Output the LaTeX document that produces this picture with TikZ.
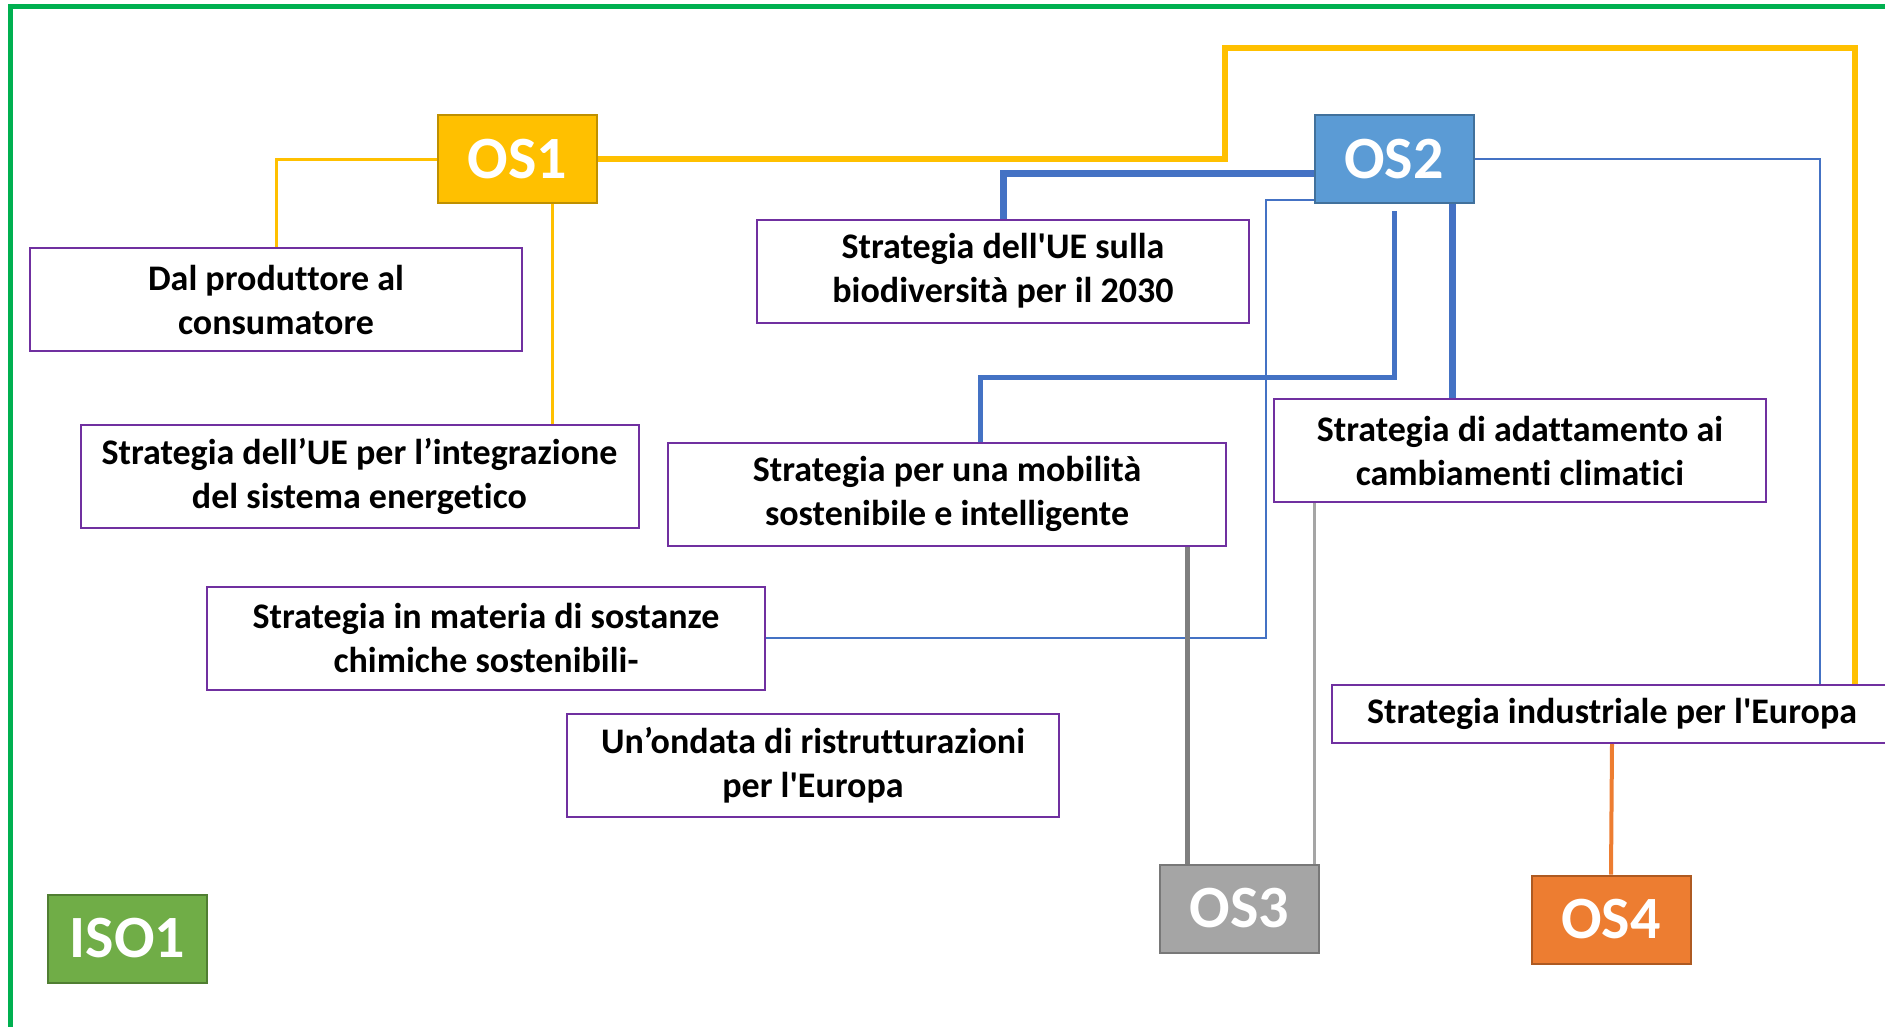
\documentclass[tikz,border=0pt]{standalone}
\usepackage{fontspec}
\setmainfont{Carlito}[Ligatures=CommonOff]
\usetikzlibrary{calc}
\definecolor{osyellow}{HTML}{FFC000}
\definecolor{osyellowdark}{HTML}{BF9000}
\definecolor{osblue}{HTML}{5B9BD5}
\definecolor{osbluedark}{HTML}{41719C}
\definecolor{linkblue}{HTML}{4472C4}
\definecolor{osgray}{HTML}{A5A5A5}
\definecolor{osgraydark}{HTML}{787878}
\definecolor{linkgray}{HTML}{7F7F7F}
\definecolor{osorange}{HTML}{ED7D31}
\definecolor{osorangedark}{HTML}{AE5A21}
\definecolor{isogreen}{HTML}{70AD47}
\definecolor{isogreendark}{HTML}{507E32}
\definecolor{framegreen}{HTML}{00B050}
\definecolor{stratpurple}{HTML}{7030A0}
\tikzset{
    strat/.style={draw=stratpurple, line width=2pt, fill=white, align=center, inner sep=0pt,
      minimum height=103pt, font=\fontsize{36}{44}\selectfont\bfseries},
    stratnarrow/.style={strat, minimum width=492pt},
    stratwide/.style={strat, minimum width=558pt},
    osbox/.style={line width=2pt, inner sep=0pt, minimum width=159pt, minimum height=88pt,
      text=white, font=\fontsize{60}{62}\selectfont\bfseries},
    yellowlink/.style={draw=osyellow},
    bluelink/.style={draw=linkblue},
    graylink/.style={draw=linkgray}}
\begin{document}
\begin{tikzpicture}[x=1pt,y=-1pt]
\useasboundingbox (0,0) rectangle (1885,1026);

\draw [framegreen, line width=5pt] (10,1040) -- (10,6) -- (1900,6);

\node[osbox, fill=osyellow, draw=osyellowdark] (os1) at (517.5,159) {OS1};
\node[osbox, fill=osblue, draw=osbluedark] (os2) at (1394,159) {OS2};
\node[osbox, fill=osgray, draw=osgraydark] (os3) at (1239.5,908.5) {OS3};
\node[osbox, fill=osorange, draw=osorangedark] (os4) at (1611,919.5) {OS4};
\node[osbox, fill=isogreen, draw=isogreendark] (iso1) at (127.5,938.5) {ISO1};

\node[stratnarrow] (dal) at (276,299.5) {Dal produttore al\\consumatore};
\node[stratwide] (integ) at (359.5,476) {Strategia dell’UE per l’integrazione\\del sistema energetico};
\node[stratnarrow] (biodiv) at (1003,271) {Strategia dell\textquotesingle UE sulla\\biodiversità per il 2030};
\node[stratwide] (mobil) at (947,494) {Strategia per una mobilità\\sostenibile e intelligente};
\node[stratnarrow] (adatt) at (1520,450.5) {Strategia di adattamento ai\\cambiamenti climatici};
\node[stratwide] (chim) at (486,638) {Strategia in materia di sostanze\\chimiche sostenibili-};
\node[stratnarrow] (ondata) at (813,765) {Un’ondata di ristrutturazioni\\per l\textquotesingle Europa};
\node[strat, minimum width=560pt, minimum height=58pt] (indus) at (1612,714) {Strategia industriale per l\textquotesingle Europa};

% OS1
\draw [yellowlink, line width=3pt] (os1.west) -| (dal.north);
\coordinate (y1) at ([xshift=35pt]os1.south);
\draw [yellowlink, line width=3pt] (y1) -- (y1 |- integ.north);
\coordinate (y2) at (1855,48);
\draw [yellowlink, line width=6pt] (os1.east) -- (1225,159) |- (y2) -- (y2 |- indus.north);

% OS2
\coordinate (b1) at ([yshift=-14pt]os2.west);
\draw [bluelink, line width=7pt] (b1) -| (biodiv.north);
\coordinate (b2) at ([yshift=-41pt]os2.west);
\draw [bluelink, line width=2.5pt] (b2) -- (1266,200) |- (chim.east);
\coordinate (b3) at ([yshift=-7pt]os2.south);
\draw [bluelink, line width=5pt] (b3) -- ++(0,166) -| ([xshift=33pt]mobil.north);
\coordinate (b4) at ([xshift=58pt]os2.south);
\draw [bluelink, line width=7pt] (b4) -- (b4 |- adatt.north);
\draw [bluelink, line width=2.5pt] (os2.east) -| ([xshift=208pt]indus.north);

% OS3
\coordinate (g1) at ([xshift=-52pt]os3.north);
\draw [graylink, line width=5pt] (g1) -- (g1 |- mobil.south);
\coordinate (g2) at ([xshift=75pt]os3.north);
\draw [draw=osgray, line width=3pt] (g2) -- (g2 |- adatt.south);

% OS4
\draw [draw=osorange, line width=4pt] (indus.south) -- (os4.north);
\end{tikzpicture}
\end{document}
